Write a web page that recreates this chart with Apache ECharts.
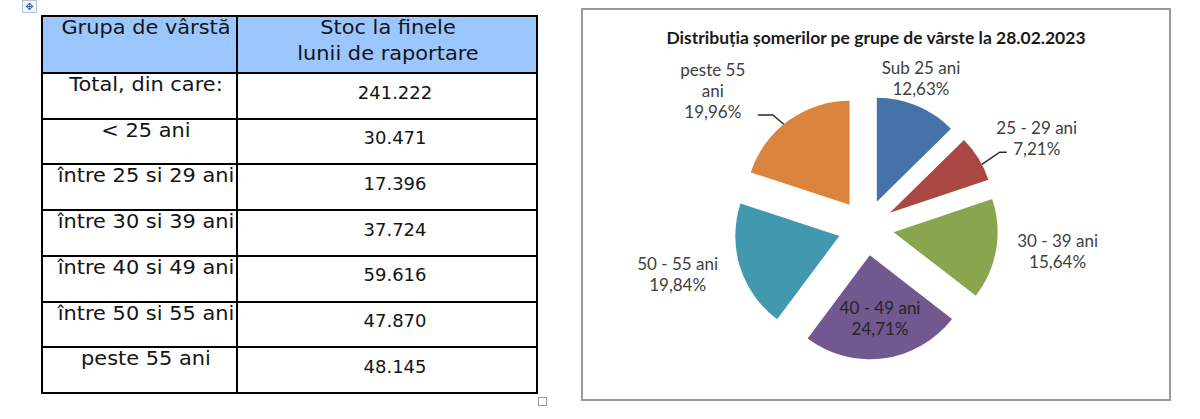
<!DOCTYPE html>
<html>
<head>
<meta charset="utf-8">
<script src="https://cdn.jsdelivr.net/npm/echarts@6/dist/echarts.min.js"></script>
<style>
  html, body { margin: 0; padding: 0; background: #fff; }
  body { width: 1200px; height: 419px; overflow: hidden; position: relative; }
  .ln { position: absolute; background: #000; }
  .txt { position: absolute; font-family: 'DejaVu Sans', sans-serif; font-size: 19px; color: #141414;
         white-space: nowrap; transform: translate(-50%, -50%) scaleX(1.1); line-height: 22px; }
  .num { font-size: 18px; transform: translate(-50%, -50%); }
  #hdrbg { position: absolute; left: 42px; top: 16px; width: 495px; height: 57px; background: #9cc6ff; }
  #chartBox { position: absolute; left: 581px; top: 8px; width: 590px; height: 393px;
              border: 2px solid #9a9a9a; box-sizing: border-box; background: #fff; }
  #chart { width: 100%; height: 100%; }
  #moveIcon { position: absolute; left: 22px; top: 0px; width: 13px; height: 11px; border: 1px solid #b9c3d6;
              background: #f2f5fa; color: #3b62a6; font-family: 'DejaVu Sans', sans-serif; font-size: 10px;
              line-height: 11px; text-align: center; }
  #sizeHandle { position: absolute; left: 538px; top: 397px; width: 7px; height: 7px; border: 1px solid #9a9a9a; }
</style>
</head>
<body>
<div id="hdrbg"></div>
<div id="moveIcon">✥</div>
<div id="sizeHandle"></div>
<div id="chartBox"><div id="chart"></div></div>
<script>
// ---------- data ----------
const headerLeft = 'Grupa de vârstă';
const headerRight = ['Stoc la finele', 'lunii de raportare'];
const tableCategories = ['Total, din care:', '< 25 ani', 'între 25 si 29 ani', 'între 30 si 39 ani',
                         'între 40 si 49 ani', 'între 50 si 55 ani', 'peste 55 ani'];
const tableValues = [241222, 30471, 17396, 37724, 59616, 47870, 48145];

const chartTitle = 'Distribuția șomerilor pe grupe de vârste la 28.02.2023';
const pieCategories = ['Sub 25 ani', '25 - 29 ani', '30 - 39 ani', '40 - 49 ani', '50 - 55 ani', 'peste 55\nani'];
const pieValues = [30471, 17396, 37724, 59616, 47870, 48145];
const pieColors = ['#4572a7', '#aa4643', '#89a54e', '#71588f', '#4198af', '#db843d'];

// ---------- table (HTML) ----------
const X0 = 42, X1 = 237, X2 = 537, YT = 16, YH = 73, RH = 45.72, LW = 2;
const YB = YH + RH * tableCategories.length;
function addLine(x, y, w, h) {
  const d = document.createElement('div');
  d.className = 'ln';
  d.style.left = x + 'px'; d.style.top = y + 'px'; d.style.width = w + 'px'; d.style.height = h + 'px';
  document.body.appendChild(d);
}
function addText(t, cx, cy, cls) {
  const d = document.createElement('div');
  d.className = 'txt' + (cls ? ' ' + cls : '');
  d.textContent = t;
  d.style.left = cx + 'px'; d.style.top = cy + 'px';
  document.body.appendChild(d);
}
function fmt(v) { return String(v).replace(/\B(?=(\d{3})+(?!\d))/g, '.'); }

const hLines = [YT, YH];
tableCategories.forEach((c, i) => hLines.push(YH + RH * (i + 1)));
hLines.forEach(y => addLine(X0 - 1, Math.round(y) - 1, X2 - X0 + LW, LW));
[X0, X1, X2].forEach(x => addLine(x - 1, YT - 1, LW, YB - YT + LW));

addText(headerLeft, 146, 27);
addText(headerRight[0], 388, 27);
addText(headerRight[1], 388, 53);
tableCategories.forEach((c, i) => {
  const top = YH + RH * i;
  addText(c, 146, top + 11);
  addText(fmt(tableValues[i]), 395, top + 19.5, 'num');
});

// ---------- pie chart (ECharts) ----------
const chart = echarts.init(document.getElementById('chart'), null, { renderer: 'svg' });

const R = 104, OFF = 28, C = [283, 217.5];
const total = pieValues.reduce((a, b) => a + b, 0);
let acc = 0;
const slices = pieValues.map(v => {
  const a0 = acc / total * 360; acc += v; const a1 = acc / total * 360;
  return { a0, a1, mid: (a0 + a1) / 2 };
});
function polar(o, ang, dist) {
  const t = ang * Math.PI / 180;
  return [o[0] + dist * Math.sin(t), o[1] - dist * Math.cos(t)];
}
const apex = slices.map(s => polar(C, s.mid, OFF));
function pct(v) { return (v / total * 100).toFixed(2).replace('.', ',') + '%'; }

// label placement (angle clockwise from top, distance from the exploded slice's apex)
const labelPlacement = [
  { ang: 19.7,  dist: 131 },
  { ang: 62.9,  dist: 165, line: { arcAng: 62.2, pts: [[-37, 14.5], [-30, 14.5]] } },
  { ang: 96.4,  dist: 165 },
  { ang: 170.8, dist: 64, inside: true },
  { ang: 256.9, dist: 166 },
  { ang: 309.8, dist: 178, line: { arcAng: 320.8, pts: [[60, 24], [45, 24]] } }
];

const graphics = [];
pieValues.forEach((v, i) => {
  const lp = labelPlacement[i];
  const pos = polar(apex[i], lp.ang, lp.dist);
  graphics.push({
    type: 'text', x: pos[0], y: pos[1], z: 10,
    style: {
      text: pieCategories[i] + '\n' + pct(v),
      fill: lp.inside ? '#262626' : '#404040',
      fontFamily: 'Lato', fontSize: 17, lineHeight: 21,
      align: 'center', verticalAlign: 'middle'
    }
  });
  if (lp.line) {
    const start = polar(apex[i], lp.line.arcAng, R);
    const pts = [start].concat(lp.line.pts.map(q => [pos[0] + q[0], pos[1] + q[1]]));
    graphics.push({
      type: 'polyline', z: 10,
      shape: { points: pts },
      style: { stroke: '#2b2b2b', lineWidth: 1.5, fill: null }
    });
  }
});

const option = {
  animation: false,
  title: {
    text: chartTitle,
    left: 'center',
    top: 13,
    textStyle: { fontFamily: 'Lato', fontWeight: 'bold', fontSize: 17.5, color: '#1a1a1a' }
  },
  graphic: graphics,
  series: [{
    type: 'pie',
    center: C,
    radius: R,
    startAngle: 90,
    clockwise: true,
    selectedMode: 'multiple',
    selectedOffset: OFF,
    emphasis: { disabled: true },
    label: { show: false },
    labelLine: { show: false },
    data: pieValues.map((v, i) => ({
      name: pieCategories[i], value: v, selected: true, itemStyle: { color: pieColors[i] }
    }))
  }]
};
chart.setOption(option);
</script>
</body>
</html>
